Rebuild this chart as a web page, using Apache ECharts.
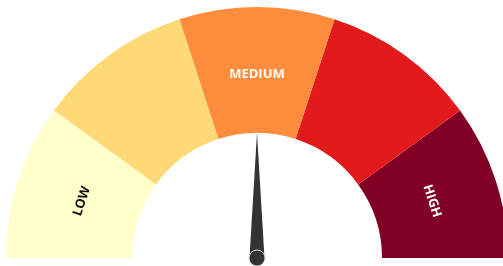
<!DOCTYPE html>
<html>
<head>
<meta charset="utf-8">
<style>
  html, body { margin: 0; padding: 0; background: #ffffff; }
  #chart { width: 503px; height: 266px; }
</style>
<script src="https://cdn.jsdelivr.net/npm/echarts@6/dist/echarts.min.js"></script>
</head>
<body>
<div id="chart"></div>
<script>
// Segment definitions (5 equal bands across 0..100)
const segmentLabels = ['LOW', '', 'MEDIUM', '', 'HIGH'];
const segmentColors = ['#ffffcc', '#fed976', '#fd8d3c', '#e31a1c', '#800026'];
const segmentLabelStyles = ['dark', 'dark', 'light', 'light', 'light'];
const gaugeMin = 0;
const gaugeMax = 100;
const needleValue = [50];

const segCount = segmentLabels.length;
const segSize = (gaugeMax - gaugeMin) / segCount;
const axisColors = segmentColors.map((c, i) => [(i + 1) / segCount, c]);

const chart = echarts.init(document.getElementById('chart'), null, { renderer: 'canvas' });

chart.setOption({
  animation: false,
  series: [{
    type: 'gauge',
    center: [257, 258],
    radius: 251,
    startAngle: 180.01,
    endAngle: 0,
    min: gaugeMin,
    max: gaugeMax,
    splitNumber: segCount * 2,
    axisLine: {
      lineStyle: { width: 126, color: axisColors }
    },
    splitLine: { show: false, length: 0, distance: 0 },
    axisTick: { show: false },
    axisLabel: {
      show: true,
      distance: 67,
      rotate: 'tangential',
      fontFamily: 'Open Sans',
      fontWeight: 'bold',
      fontSize: 13,
      formatter: function (v) {
        const idx = Math.round((v - gaugeMin) / segSize - 0.5);
        const center = gaugeMin + (idx + 0.5) * segSize;
        if (idx < 0 || idx >= segCount || Math.abs(v - center) > 1e-6) return '';
        const t = segmentLabels[idx];
        if (!t) return '';
        return '{' + segmentLabelStyles[idx] + '|' + t + '}';
      },
      rich: {
        dark: { color: '#111111', fontFamily: 'Open Sans', fontWeight: 'bold', fontSize: 13 },
        light: { color: '#ffffff', fontFamily: 'Open Sans', fontWeight: 'bold', fontSize: 13 }
      }
    },
    pointer: {
      show: true,
      icon: 'triangle',
      length: 125,
      width: 15,
      itemStyle: { color: '#333333' }
    },
    anchor: {
      show: true,
      showAbove: true,
      size: 16,
      itemStyle: { color: '#333333', borderColor: '#d9d9d9', borderWidth: 1 }
    },
    title: { show: false },
    detail: { show: false },
    data: needleValue.map(v => ({ value: v }))
  }]
});
</script>
</body>
</html>
